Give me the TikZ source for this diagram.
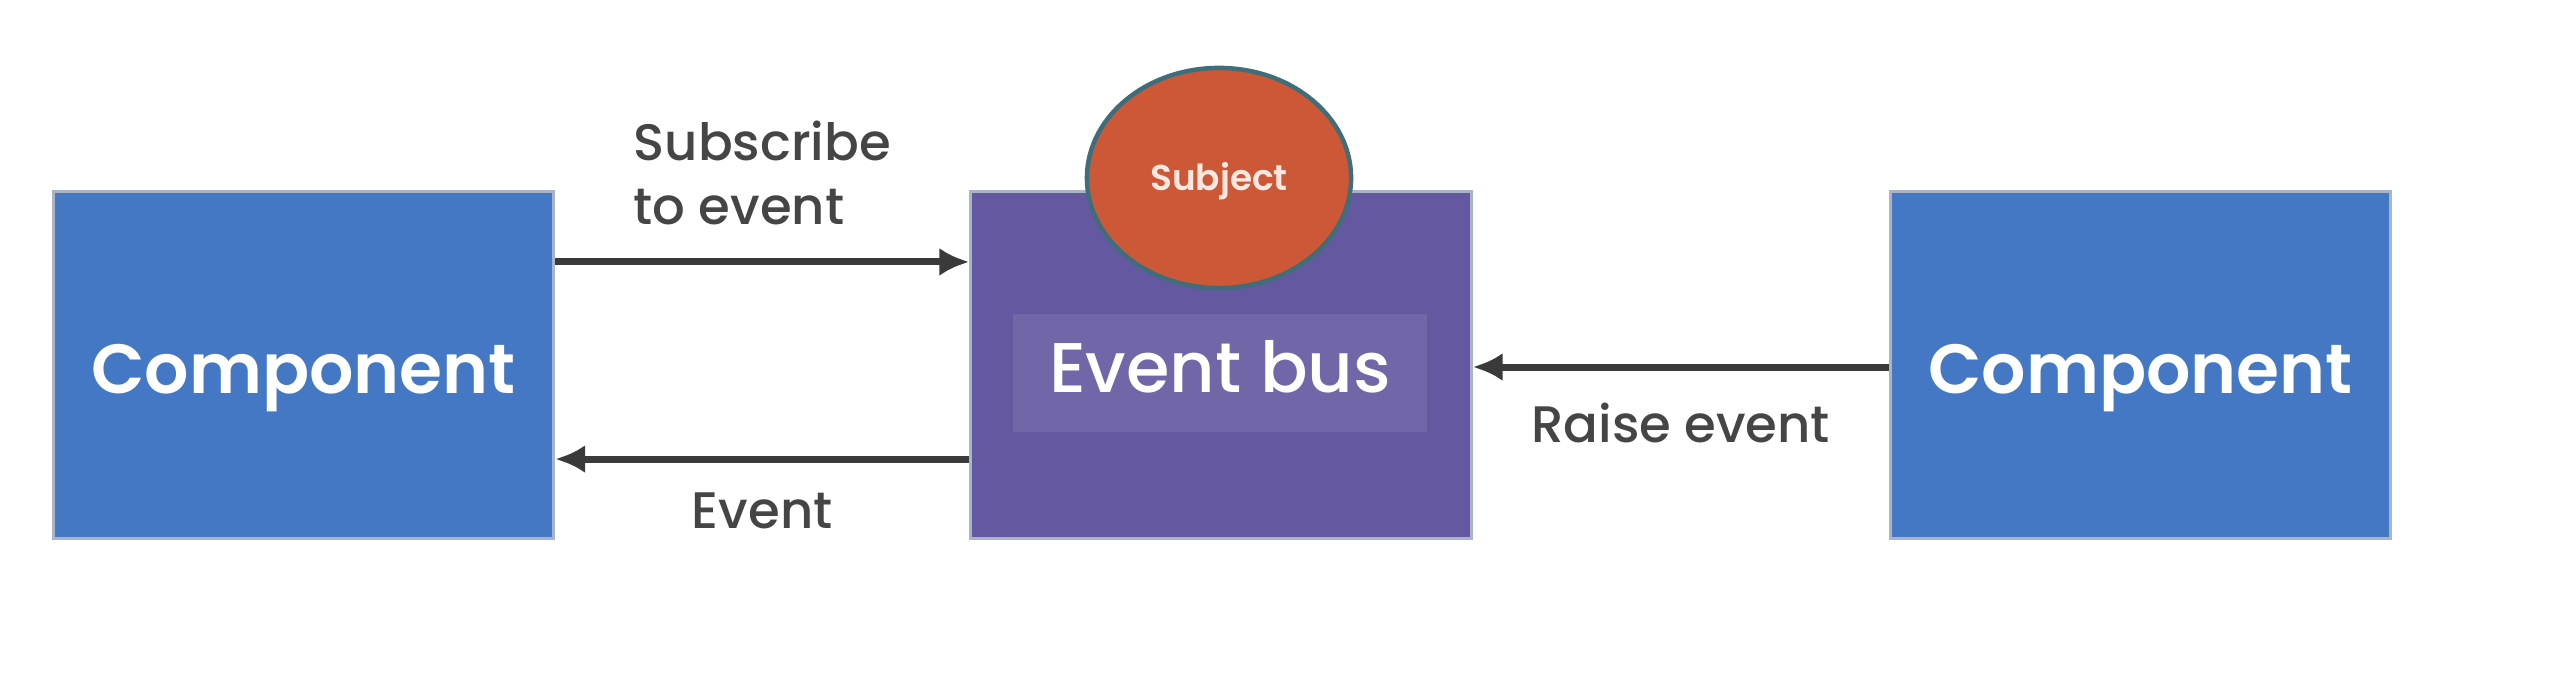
\documentclass[tikz,border=0pt]{standalone}
\usepackage{fontspec}
\setmainfont{Poppins}[BoldFont={Poppins SemiBold}]
\newfontfamily\medfont{Poppins Medium}
\usetikzlibrary{arrows.meta,positioning,shapes.geometric}
\definecolor{CompBlue}{RGB}{68,120,197}
\definecolor{BusPurple}{RGB}{100,89,160}
\definecolor{BusLight}{RGB}{112,102,168}
\definecolor{SubjOrange}{RGB}{204,88,56}
\definecolor{SubjRim}{RGB}{63,110,122}
\definecolor{SubjText}{RGB}{250,232,224}
\definecolor{EdgeGray}{RGB}{170,180,200}
\definecolor{ArrowGray}{RGB}{58,58,58}
\definecolor{LabelGray}{RGB}{69,69,69}

\begin{document}
\begin{tikzpicture}[x=0.01cm,y=-0.01cm,>={Latex[length=0.3cm,width=0.28cm]},
    box/.style={draw=EdgeGray,line width=0.03cm,minimum width=5cm,minimum height=3.47cm,inner sep=0pt,text=white},
    compfont/.style={font=\fontsize{19.8}{24}\selectfont\bfseries,text height=0.56cm,text depth=0cm},
    flow/.style={->,ArrowGray,line width=0.07cm},
    lbl/.style={text=LabelGray,font=\fontsize{14.6}{18.2}\selectfont\medfont,inner sep=0pt}]
      \useasboundingbox (0,0) rectangle (2558,682);
      % boxes
      \node[box,fill=CompBlue,compfont] (compL) at (303.5,365) {Component};
      \node[box,fill=BusPurple] (bus) at (1221,365) {};
      \node[fill=BusLight,minimum width=4.14cm,minimum height=1.17cm,inner sep=0pt,text=white,
        text height=0.38cm,text depth=0cm,font=\fontsize{20}{24}\selectfont\medfont] (busName) at (1220,373) {Event bus};
      \node[box,fill=CompBlue,compfont] (compR) at (2140.5,365) {Component};
      \node[ellipse,draw=SubjRim,line width=0.045cm,fill=SubjOrange,minimum width=2.64cm,minimum height=2.2cm,
        inner sep=0pt,text=SubjText,text height=0.24cm,text depth=0cm,
        font=\fontsize{10.2}{12}\selectfont\bfseries] (subject) at (1219,178) {Subject};
      % arrows
      \draw[flow] ([yshift=1.03cm]compL.east) -- ([yshift=1.03cm]bus.west)
        node[lbl,midway,above=0.33cm,align=left] (subLbl) {Subscribe\\to event};
      \draw[flow] ([yshift=-0.94cm]bus.west) -- ([yshift=-0.94cm]compL.east)
        node[lbl,midway,below=0.3cm] (eventLbl) {Event};
      \draw[flow] ([yshift=-0.02cm]compR.west) -- ([yshift=-0.02cm]bus.east)
        node[lbl,midway,below=0.32cm] (raiseLbl) {Raise event};
    \end{tikzpicture}
\end{document}
